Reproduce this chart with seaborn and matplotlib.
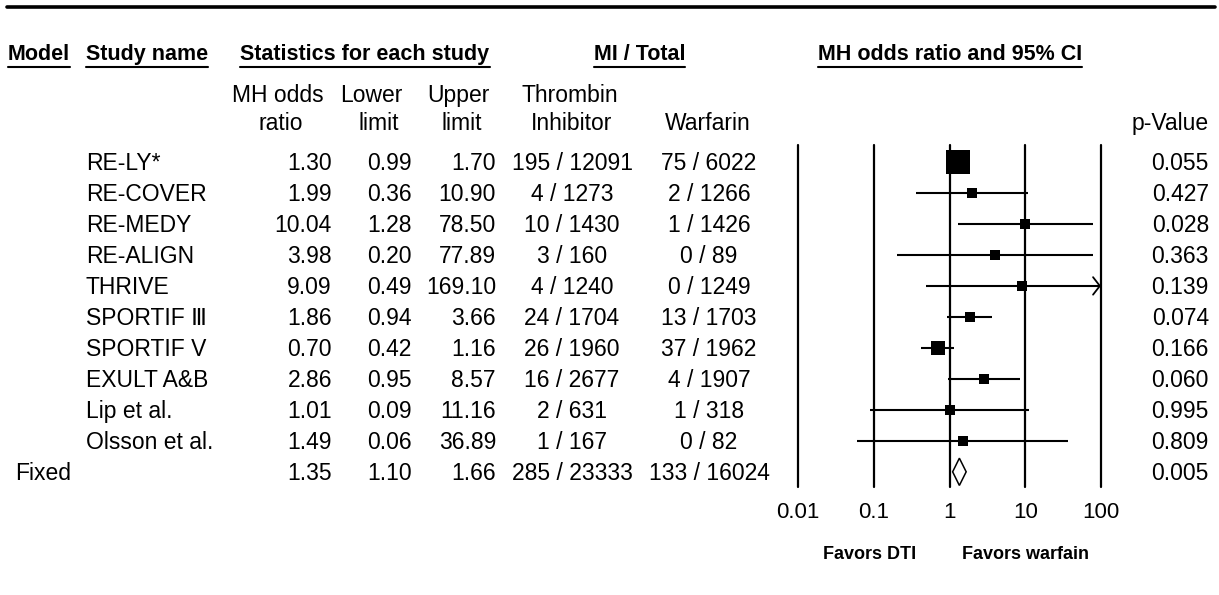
import numpy as np
import pandas as pd
import matplotlib
matplotlib.use("Agg")
import matplotlib.pyplot as plt
from matplotlib.transforms import blended_transform_factory
from matplotlib.lines import Line2D
from matplotlib.ticker import NullLocator, FixedLocator, FixedFormatter
import seaborn as sns

# ---------------- data ----------------
studies = ["RE-LY*", "RE-COVER", "RE-MEDY", "RE-ALIGN", "THRIVE",
           "SPORTIF Ⅲ", "SPORTIF V", "EXULT A&B", "Lip et al.", "Olsson et al."]
odds_ratio = [1.30, 1.99, 10.04, 3.98, 9.09, 1.86, 0.70, 2.86, 1.01, 1.49]
lower_limit = [0.99, 0.36, 1.28, 0.20, 0.49, 0.94, 0.42, 0.95, 0.09, 0.06]
upper_limit = [1.70, 10.90, 78.50, 77.89, 169.10, 3.66, 1.16, 8.57, 11.16, 36.89]
dti_events = [195, 4, 10, 3, 4, 24, 26, 16, 2, 1]
dti_total = [12091, 1273, 1430, 160, 1240, 1704, 1960, 2677, 631, 167]
warfarin_events = [75, 2, 1, 0, 0, 13, 37, 4, 1, 0]
warfarin_total = [6022, 1266, 1426, 89, 1249, 1703, 1962, 1907, 318, 82]
p_values = [0.055, 0.427, 0.028, 0.363, 0.139, 0.074, 0.166, 0.060, 0.995, 0.809]

fixed_label = "Fixed"
fixed_or = 1.35
fixed_lower = 1.10
fixed_upper = 1.66
fixed_dti_events, fixed_dti_total = 285, 23333
fixed_war_events, fixed_war_total = 133, 16024
fixed_p = 0.005

x_ticks = [0.01, 0.1, 1, 10, 100]
x_tick_labels = ["0.01", "0.1", "1", "10", "100"]

# ---------------- style ----------------
sns.set_theme(style="white")
plt.rcParams["font.family"] = ["Liberation Sans", "DejaVu Sans"]
plt.rcParams["text.color"] = "black"
plt.rcParams["xtick.color"] = "black"
plt.rcParams["xtick.labelcolor"] = "black"

W, H = 1219, 595
fig = plt.figure(figsize=(W / 100, H / 100), dpi=100)


def fx(px):
    return px / W


def fy(px):
    return 1 - px / H


# forest axes: x 0.01..100 -> px 798..1101, y px 145..487
ax = fig.add_axes([fx(798), fy(487), fx(1101) - fx(798), (487 - 145) / H])

n = len(studies)
rows = np.arange(n)
fixed_row = n

# MH weights from the 2x2 tables (0.5 continuity correction on zero cells)
a = np.array(dti_events, float)
b = np.array(dti_total, float) - a
c = np.array(warfarin_events, float)
d = np.array(warfarin_total, float) - c
zero = (a == 0) | (b == 0) | (c == 0) | (d == 0)
a, b, c, d = [np.where(zero, v + 0.5, v) for v in (a, b, c, d)]
w_mh = b * c / (a + b + c + d)
side_px = np.maximum(9.8, 23.5 * np.sqrt(w_mh / w_mh.max()))
marker_s = (side_px * 0.72) ** 2

df = pd.DataFrame({"study": studies, "odds_ratio": odds_ratio,
                   "lower": lower_limit, "upper": upper_limit, "row": rows})

# CI lines (clipped at axis max)
upper_clip = np.minimum(df["upper"], x_ticks[-1])
ax.hlines(df["row"], df["lower"], upper_clip, color="black", lw=1.5, zorder=2)

sns.scatterplot(data=df, x="odds_ratio", y="row", marker="s", color="black",
                s=marker_s, linewidth=0, legend=False, ax=ax, zorder=3)

ax.set_xscale("log")
ax.set_xlim(x_ticks[0], x_ticks[-1])
ax.set_ylim(10.49, -0.548)

# arrows for CIs beyond the axis
for r, u in zip(df["row"], df["upper"]):
    if u > x_ticks[-1]:
        ax.annotate("", xy=(x_ticks[-1], r), xytext=(x_ticks[-1] * 0.8, r),
                    arrowprops=dict(arrowstyle="->,head_length=0.35,head_width=0.45",
                                    lw=1.3, color="black", mutation_scale=14,
                                    shrinkA=0, shrinkB=0), zorder=3)

# summary diamond
ax.fill([fixed_lower, fixed_or, fixed_upper, fixed_or],
        [fixed_row, fixed_row - 0.44, fixed_row, fixed_row + 0.44],
        facecolor="white", edgecolor="black", lw=1.1, zorder=4)

# reference lines
for t in x_ticks:
    ax.axvline(t, color="black", lw=1.6, clip_on=False, zorder=1)

ax.xaxis.set_major_locator(FixedLocator(x_ticks))
ax.xaxis.set_major_formatter(FixedFormatter(x_tick_labels))
ax.xaxis.set_minor_locator(NullLocator())
ax.set_yticks([])
ax.tick_params(axis="x", length=0, pad=11, labelsize=16, colors="black",
               labelcolor="black")
ax.set_xlabel("")
ax.set_ylabel("")
for sp in ax.spines.values():
    sp.set_visible(False)
ax.patch.set_alpha(0)

# ---------------- table text ----------------
tr = blended_transform_factory(fig.transFigure, ax.transData)
base_off = 0.27  # baseline offset (rows) so digits are centred on the row
fs = 16.5
kw = dict(transform=tr, va="baseline", fontsize=fs, color="black")

for i in range(n):
    y = rows[i] + base_off
    ax.text(fx(86), y, studies[i], ha="left", **kw)
    ax.text(fx(332), y, f"{odds_ratio[i]:.2f}", ha="right", **kw)
    ax.text(fx(412), y, f"{lower_limit[i]:.2f}", ha="right", **kw)
    ax.text(fx(496), y, f"{upper_limit[i]:.2f}", ha="right", **kw)
    ax.text(fx(572), y, f"{dti_events[i]} / {dti_total[i]}", ha="center", **kw)
    ax.text(fx(709), y, f"{warfarin_events[i]} / {warfarin_total[i]}", ha="center", **kw)
    ax.text(fx(1209), y, f"{p_values[i]:.3f}", ha="right", **kw)

y = fixed_row + base_off
ax.text(fx(15), y, fixed_label, ha="left", **kw)
ax.text(fx(332), y, f"{fixed_or:.2f}", ha="right", **kw)
ax.text(fx(412), y, f"{fixed_lower:.2f}", ha="right", **kw)
ax.text(fx(496), y, f"{fixed_upper:.2f}", ha="right", **kw)
ax.text(fx(572), y, f"{fixed_dti_events} / {fixed_dti_total}", ha="center", **kw)
ax.text(fx(709), y, f"{fixed_war_events} / {fixed_war_total}", ha="center", **kw)
ax.text(fx(1209), y, f"{fixed_p:.3f}", ha="right", **kw)

# sub headers
sub = [("MH odds", 278, 102), ("ratio", 281, 130),
       ("Lower", 371, 102), ("limit", 379, 130),
       ("Upper", 458, 102), ("limit", 462, 130),
       ("Thrombin", 570, 102), ("Inhibitor", 572, 130),
       ("Warfarin", 708, 130)]
for s, x, yb in sub:
    fig.text(fx(x), fy(yb), s, ha="center", va="baseline", fontsize=fs, color="black")
fig.text(fx(1209), fy(130), "p-Value", ha="right", va="baseline", fontsize=fs, color="black")

# bold headers with underlines
headers = [("Model", 8, "left"), ("Study name", 86, "left"),
           ("Statistics for each study", 365, "center"),
           ("MI / Total", 639.5, "center"),
           ("MH odds ratio and 95% CI", 950, "center")]
htexts = [fig.text(fx(x), fy(60), s, ha=ha, va="baseline", fontsize=15.5,
                   fontweight="bold", color="black") for s, x, ha in headers]

# favors labels
fig.text(fx(870), fy(559), "Favors DTI", ha="center", va="baseline", fontsize=13,
         fontweight="bold", color="black")
fig.text(fx(1026), fy(559), "Favors warfain", ha="center", va="baseline", fontsize=13,
         fontweight="bold", color="black")

# top rule
fig.add_artist(Line2D([fx(7), fx(1215)], [fy(7), fy(7)], color="black", lw=2.6,
                      transform=fig.transFigure))

fig.canvas.draw()
renderer = fig.canvas.get_renderer()
for t in htexts:
    bb = t.get_window_extent(renderer)
    fig.add_artist(Line2D([bb.x0 / W, bb.x1 / W], [fy(67), fy(67)], color="black",
                          lw=1.5, transform=fig.transFigure))

fig.savefig("out.png", dpi=100, facecolor="white")
